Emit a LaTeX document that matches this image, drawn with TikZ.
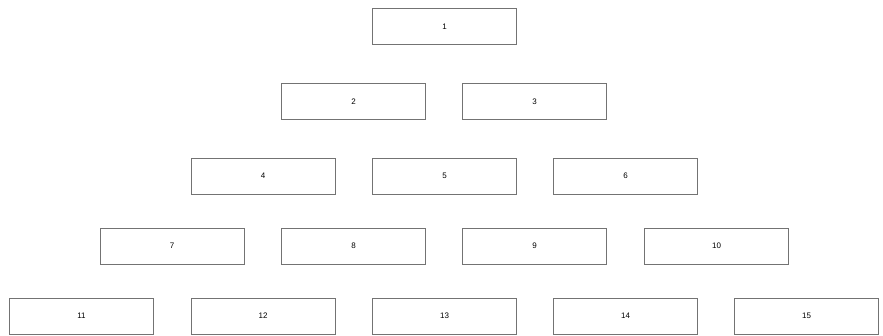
\documentclass[tikz,border=0pt]{standalone}
\usepackage{fontspec}
\setmainfont{Liberation Sans}
\usepackage{tikz}
\usetikzlibrary{positioning}

\tikzset{
  cell/.style={draw=black!55,line width=0.9pt,fill=white,minimum width=144pt,
    minimum height=36pt,inner sep=0pt,font=\fontsize{8}{9}\selectfont},
}

\begin{document}
\begin{tikzpicture}[x=1pt,y=-1pt]
\useasboundingbox (0,0) rectangle (883,336);
% pyramid of numbered cells, rows from top to bottom
\foreach \n/\cx/\cy in {1/444.5/26.5,
  2/353.5/101.5, 3/534.5/101.5,
  4/263/176, 5/444.5/176, 6/625.5/176,
  7/172/246, 8/353.5/246, 9/534.5/246, 10/716.5/246,
  11/81.5/316, 12/263/316, 13/444.5/316, 14/625.5/316, 15/806.5/316}
  \node[cell] (c\n) at (\cx,\cy) {\n};
\end{tikzpicture}
\end{document}
